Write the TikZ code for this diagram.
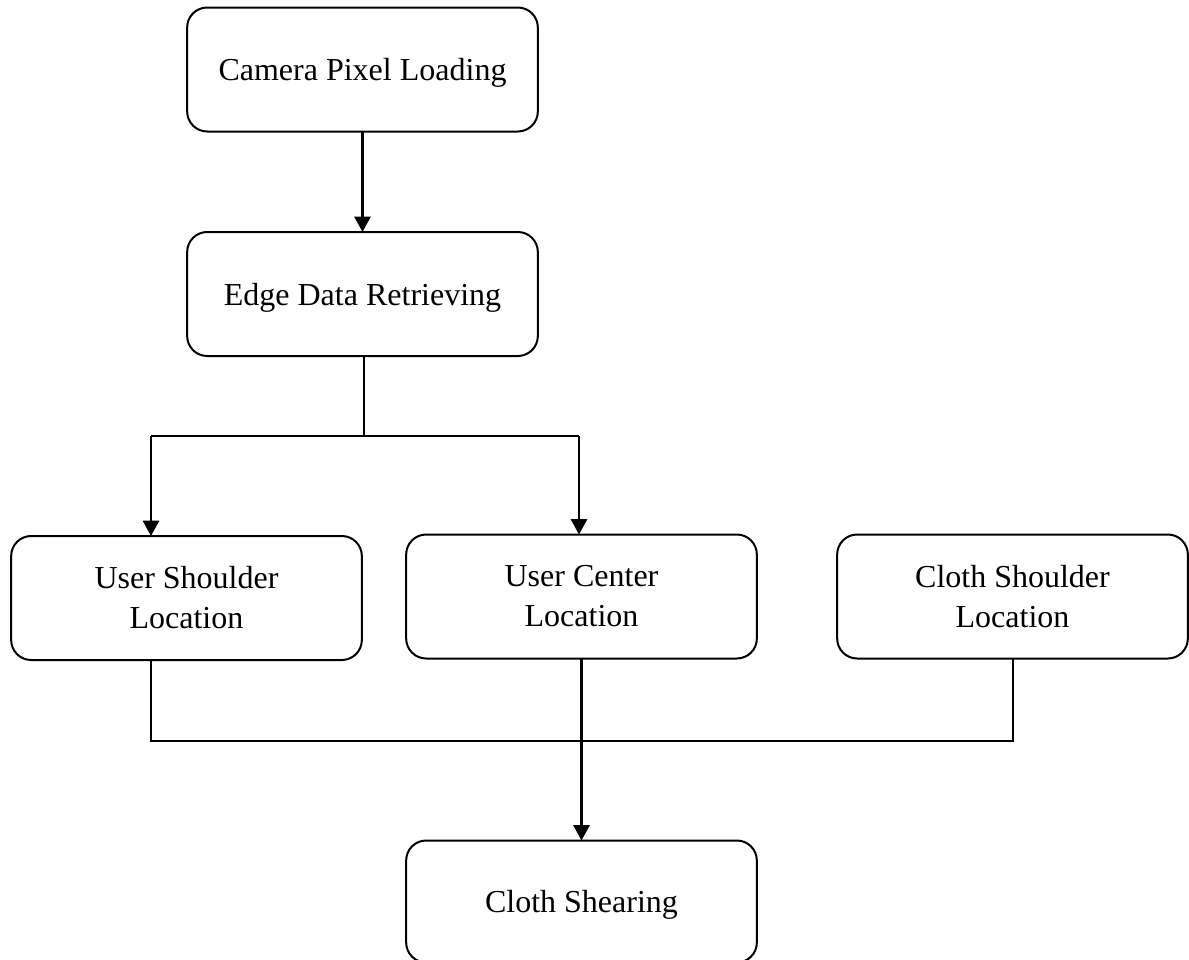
\documentclass[tikz,border=0pt]{standalone}
\usepackage{fontspec}
\setmainfont{Liberation Serif}
\usetikzlibrary{arrows.meta}
\begin{document}
\begin{tikzpicture}[x=0.75pt,y=-0.75pt,
  box/.style={draw=black,line width=1.5pt,rounded corners=15pt,
    minimum width=263pt,minimum height=93pt,inner sep=0pt,outer sep=0pt,
    align=center,font=\fontsize{24}{30}\selectfont},
  onebox/.style={box,text depth=0pt},
  conn/.style={draw=black,line width=1.3pt},
  arr/.style={draw=black,line width=2pt,-{Triangle[width=12pt,length=11.5pt]}}]
\useasboundingbox (0,0) rectangle (1189,960);
\node[onebox] (cam) at (362.5,69.5) {Camera Pixel Loading};
\node[onebox] (edge) at (362.5,294) {Edge Data Retrieving};
\node[box] (us) at (186.5,598) {User Shoulder\\Location};
\node[box] (uc) at (581.5,596.5) {User Center\\Location};
\node[box] (cs) at (1012.5,596.5) {Cloth Shoulder\\Location};
\node[onebox,minimum height=91.5pt] (shear) at (581.5,901.5) {Cloth Shearing};
\coordinate (jm) at (364,436);
\coordinate (jl) at (151,436);
\coordinate (jr) at (579,436);
\coordinate (bl) at (151,741);
\coordinate (br) at (1013,741);
\draw[arr] (cam.south) -- (edge.north);
\draw[conn] (jm |- edge.south) -- (jm);
\draw[conn] (jl) -- (jr);
\draw[arr] (jl) -- (jl |- us.north);
\draw[arr] (jr) -- (jr |- uc.north);
\draw[conn] (bl |- us.south) -- (bl) -- (br) -- (br |- cs.south);
\draw[arr] (uc.south) -- (shear.north);
\end{tikzpicture}
\end{document}
